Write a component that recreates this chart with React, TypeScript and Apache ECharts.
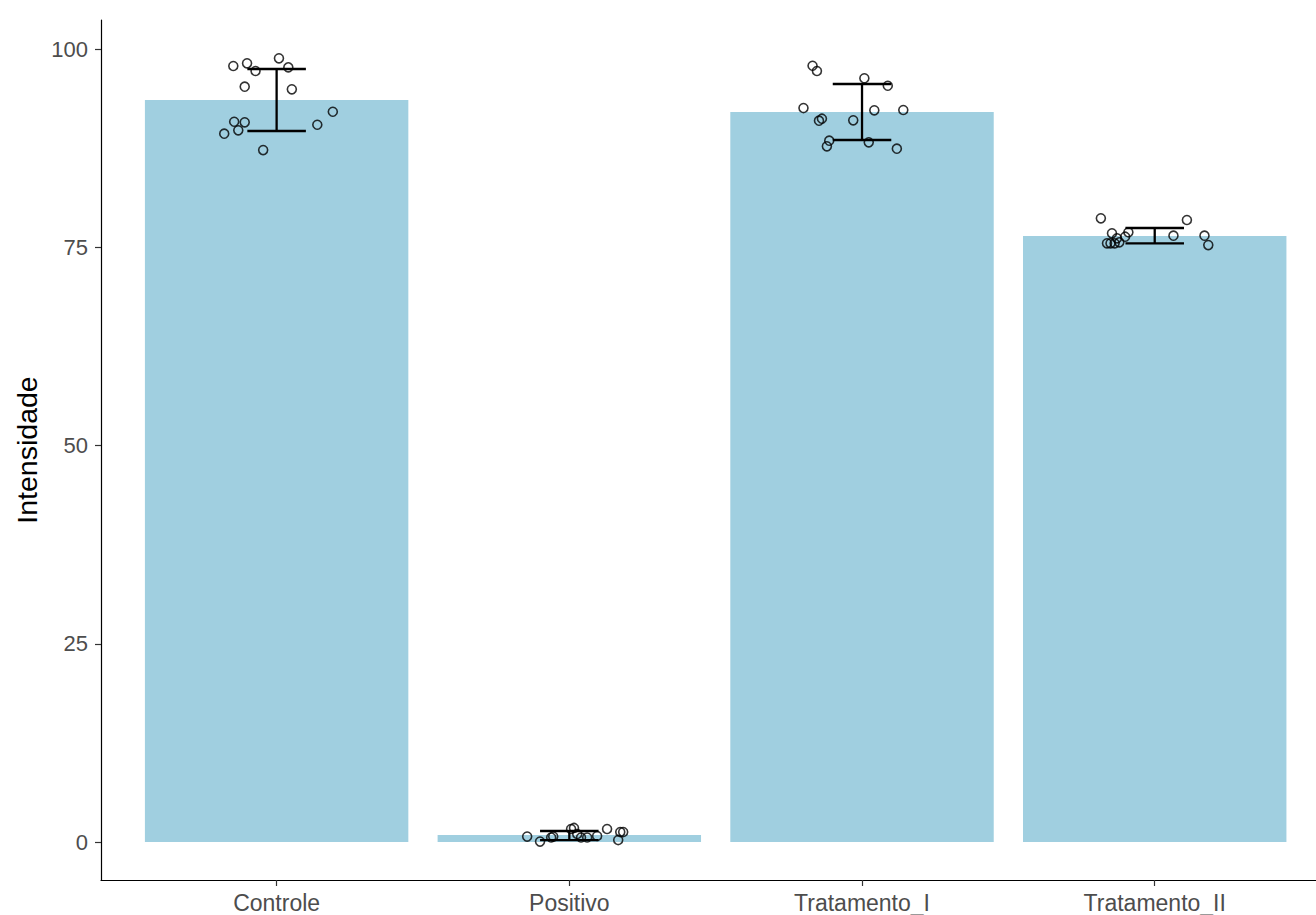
import React, { useEffect, useRef } from "react";
import * as echarts from "echarts";

const categories = ["Controle", "Positivo", "Tratamento_I", "Tratamento_II"];
const means = [93.57, 0.88, 92.06, 76.42];
const errLow = [89.66, 0.25, 88.53, 75.5];
const errHigh = [97.48, 1.39, 95.59, 77.43];
const yTicks = [0, 25, 50, 75, 100];

const controleValues = [97.86, 98.2, 97.23, 98.83, 97.69, 95.25, 94.92, 90.83, 90.76, 89.75, 89.32, 87.26, 90.45, 92.09];
const controleJitter = [-0.148, -0.101, -0.072, 0.008, 0.04, -0.109, 0.052, -0.145, -0.109, -0.131, -0.179, -0.046, 0.139, 0.192];

const positivoValues = [0.69, 0.06, 0.57, 0.69, 1.64, 1.77, 1.01, 0.57, 0.57, 0.76, 1.64, 1.26, 1.26, 0.25];
const positivoJitter = [-0.144, -0.1, -0.062, -0.055, 0.006, 0.016, 0.027, 0.04, 0.061, 0.095, 0.129, 0.174, 0.184, 0.167];

const trat1Values = [97.89, 97.23, 96.31, 95.37, 92.56, 92.27, 92.31, 91.21, 90.96, 91.01, 88.44, 87.73, 88.23, 87.43];
const trat1Jitter = [-0.169, -0.154, 0.008, 0.088, -0.2, 0.042, 0.141, -0.137, -0.147, -0.03, -0.112, -0.12, 0.023, 0.119];

const trat2Values = [78.65, 76.76, 75.5, 75.5, 76.13, 75.62, 76.33, 76.89, 76.46, 78.44, 76.46, 75.28, 75.5];
const trat2Jitter = [-0.184, -0.146, -0.163, -0.151, -0.129, -0.121, -0.101, -0.09, 0.064, 0.11, 0.17, 0.183, -0.137];

const groupValues = [controleValues, positivoValues, trat1Values, trat2Values];
const groupJitter = [controleJitter, positivoJitter, trat1Jitter, trat2Jitter];

export default function App() {
  const ref = useRef<HTMLDivElement>(null);
  useEffect(() => {
    document.body.style.margin = "0";
    const chart = echarts.init(ref.current!, null, { renderer: "svg" });
    const barData = categories.map((_, i) => [i + 1, means[i]]);
    const errData = categories.map((_, i) => [i + 1, errLow[i], errHigh[i]]);
    const pointData: number[][] = [];
    groupValues.forEach((vals, g) => {
      vals.forEach((v, k) => pointData.push([g + 1 + groupJitter[g][k], v]));
    });
    const font = "'Liberation Sans', Arial, sans-serif";
    chart.setOption({
      animation: false,
      grid: { left: 101, right: 0, top: 20, bottom: 35 },
      xAxis: {
        type: "value",
        min: 0.4,
        max: 4.551,
        splitLine: { show: false },
        axisLine: { onZero: false, lineStyle: { color: "#000", width: 1.2 } },
        axisTick: { show: true, length: 6, lineStyle: { color: "#333", width: 1.2 }, customValues: [1, 2, 3, 4] },
        axisLabel: {
          customValues: [1, 2, 3, 4],
          formatter: (v: number) => categories[Math.round(v) - 1] ?? "",
          color: "#4d4d4d",
          fontSize: 23,
          fontFamily: font,
          margin: 11,
        },
      },
      yAxis: {
        type: "value",
        min: -4.79,
        max: 103.66,
        splitLine: { show: false },
        axisLine: { show: true, lineStyle: { color: "#000", width: 1.2 } },
        axisTick: { show: true, length: 6, lineStyle: { color: "#333", width: 1.2 }, customValues: yTicks },
        axisLabel: {
          customValues: yTicks,
          color: "#4d4d4d",
          fontSize: 22,
          fontFamily: font,
          margin: 13,
        },
      },
      graphic: [
        {
          type: "text",
          x: 27,
          y: 450,
          rotation: Math.PI / 2,
          style: {
            text: "Intensidade",
            fontSize: 28.5,
            fontFamily: font,
            fill: "#000",
            align: "center",
            verticalAlign: "middle",
          },
        },
      ],
      series: [
        {
          type: "custom",
          data: barData,
          z: 1,
          renderItem: (params: any, api: any) => {
            const x = api.value(0);
            const y = api.value(1);
            const p1 = api.coord([x - 0.45, y]);
            const p2 = api.coord([x + 0.45, 0]);
            return {
              type: "rect",
              shape: { x: p1[0], y: p1[1], width: p2[0] - p1[0], height: p2[1] - p1[1] },
              style: { fill: "#a0cfe0" },
            };
          },
        },
        {
          type: "custom",
          data: errData,
          z: 2,
          renderItem: (params: any, api: any) => {
            const x = api.value(0);
            const lo = api.value(1);
            const hi = api.value(2);
            const a = api.coord([x - 0.1, hi]);
            const b = api.coord([x + 0.1, hi]);
            const c = api.coord([x - 0.1, lo]);
            const d = api.coord([x + 0.1, lo]);
            const m1 = api.coord([x, hi]);
            const m2 = api.coord([x, lo]);
            const st = { stroke: "#000", lineWidth: 2.3 };
            return {
              type: "group",
              children: [
                { type: "line", shape: { x1: a[0], y1: a[1], x2: b[0], y2: b[1] }, style: st },
                { type: "line", shape: { x1: c[0], y1: c[1], x2: d[0], y2: d[1] }, style: st },
                { type: "line", shape: { x1: m1[0], y1: m1[1], x2: m2[0], y2: m2[1] }, style: st },
              ],
            };
          },
        },
        {
          type: "scatter",
          data: pointData,
          z: 3,
          symbol: "circle",
          symbolSize: 9,
          itemStyle: { color: "rgba(0,0,0,0)", borderColor: "#000", borderWidth: 1.6 },
        },
      ],
    });
    return () => chart.dispose();
  }, []);
  return <div ref={ref} style={{ width: 1316, height: 915 }} />;
}
